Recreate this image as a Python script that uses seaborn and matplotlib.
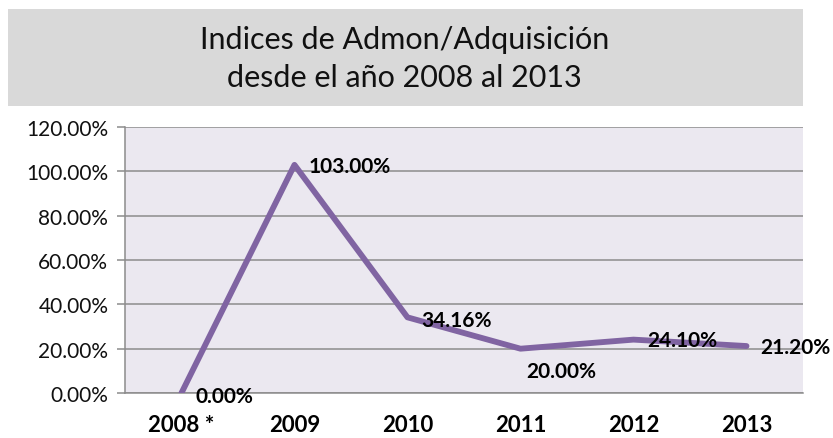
import numpy as np
import pandas as pd
import matplotlib as mpl
from matplotlib import pyplot as plt
from matplotlib.patches import Rectangle
import seaborn as sb

# Data
years = ["2008 *", "2009", "2010", "2011", "2012", "2013"]
indices = [0.00, 103.00, 34.16, 20.00, 24.10, 21.20]
label_text = ["0.00%", "103.00%", "34.16%", "20.00%", "24.10%", "21.20%"]
y_ticks = [0, 20, 40, 60, 80, 100, 120]

data = pd.DataFrame({"year": years, "idx": indices})

sb.set_theme(style="white")
plt.rcParams["font.family"] = ["Lato", "DejaVu Sans"]

fig = plt.figure(figsize=(8.33, 4.39), dpi=100)

# Gray title box
fig.patches.append(Rectangle((0.0096, 0.756), 0.954, 0.221, transform=fig.transFigure,
                             facecolor="#d9d9d9", edgecolor="none", zorder=0))
fig.text(0.486, 0.866, "Indices de Admon/Adquisición\ndesde el año 2008 al 2013",
         ha="center", va="center", fontsize=22, color="#111111", linespacing=1.45)

ax = fig.add_axes([0.150, 0.1025, 0.814, 0.6055])
ax.set_facecolor("#ebe8f0")

sb.lineplot(data=data, x="year", y="idx", ax=ax, color="#8064a2", linewidth=4.2,
            sort=False, zorder=3)

# Data labels
offsets = [(10, -2), (10, -1), (10, -2), (4, -16), (10, 0), (10, -1)]
for i, (v, t) in enumerate(zip(indices, label_text)):
    ax.annotate(t, (i, v), xytext=offsets[i], textcoords="offset points",
                ha="left", va="center", fontsize=15, fontweight="bold",
                color="#000000", zorder=4)

ax.set_xlim(-0.5, len(years) - 0.5)
ax.set_ylim(0, 120)
ax.set_yticks(y_ticks)
ax.set_yticklabels([f"{v:.2f}%" for v in y_ticks], fontsize=15, color="#111111")
ax.grid(True, axis="y", color="#8c8c8c", linewidth=1.1)
ax.set_axisbelow(True)

ax.set_xticks(range(len(years)))
ax.set_xticklabels(years, fontsize=16, fontweight="bold", color="#000000")
ax.set_xticks(np.arange(-0.5, len(years)), minor=True)
ax.tick_params(axis="x", which="major", length=0, pad=15)
ax.tick_params(axis="x", which="minor", length=6, width=1.1, color="#8c8c8c", direction="out")
ax.tick_params(axis="y", length=6, width=1.1, color="#8c8c8c", direction="out", left=True, pad=6)
ax.set_xlabel("")
ax.set_ylabel("")

for s in ["top", "right"]:
    ax.spines[s].set_visible(False)
for s in ["left", "bottom"]:
    ax.spines[s].set_color("#8c8c8c")
    ax.spines[s].set_linewidth(1.1)

fig.savefig("out.png", dpi=100)
